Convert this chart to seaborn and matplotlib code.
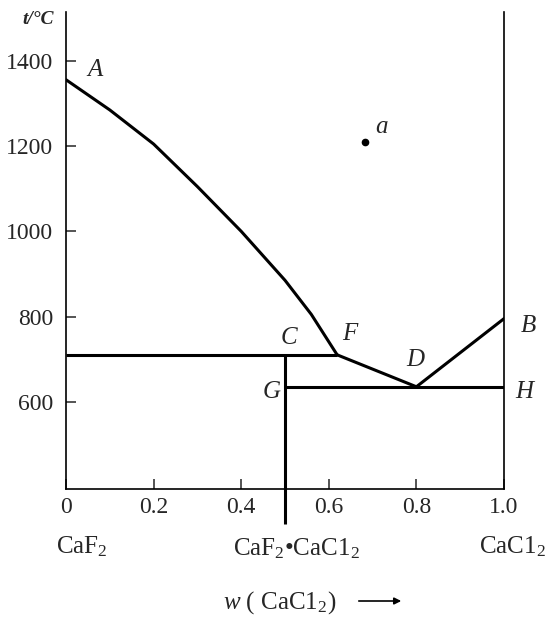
import numpy as np
import matplotlib
matplotlib.use("Agg")
import matplotlib.pyplot as plt
import pandas as pd
import seaborn as sns

# liquidus A -> F (w, t)
liq_w = [0.0, 0.1, 0.2, 0.3, 0.4, 0.5, 0.56, 0.619]
liq_t = [1356, 1285, 1205, 1105, 1000, 885, 805, 710]
# F -> D -> B
fdb_w = [0.619, 0.80, 1.0]
fdb_t = [710, 635, 795]
# horizontal lines: C line and G-H line
peritectic_t = 710
eutectic_t = 635
compound_w = 0.5
point_a = (0.683, 1210)

xticks = [0, 0.2, 0.4, 0.6, 0.8, 1.0]
xticklabels = ["0", "0.2", "0.4", "0.6", "0.8", "1.0"]
yticks = [600, 800, 1000, 1200, 1400]

sns.set_style("ticks")
plt.rcParams["font.family"] = ["Liberation Serif", "DejaVu Serif"]
plt.rcParams["mathtext.fontset"] = "custom"
plt.rcParams["mathtext.rm"] = "Liberation Serif"
plt.rcParams["mathtext.it"] = "Liberation Serif:italic"

fig = plt.figure(figsize=(5.47, 6.17), dpi=100)
ax = fig.add_axes([0.1207, 0.2075, 0.8007, 0.773])

lw = 2.2
liq = pd.DataFrame({"w": liq_w, "t": liq_t})
sns.lineplot(data=liq, x="w", y="t", sort=False, color="black", lw=lw, ax=ax)
sns.lineplot(x=fdb_w, y=fdb_t, sort=False, color="black", lw=lw, ax=ax)

ax.hlines(peritectic_t, 0, liq_w[-1], color="black", lw=lw)
ax.hlines(eutectic_t, compound_w, 1.0, color="black", lw=lw)
ax.vlines(compound_w, 313, peritectic_t, color="black", lw=lw, clip_on=False)
ax.plot(*point_a, "o", color="black", ms=4.5)

ax.set_xlim(0, 1.0)
ax.set_ylim(395, 1515)
ax.set_xticks(xticks)
ax.set_xticklabels(xticklabels)
ax.set_yticks(yticks)
ax.tick_params(direction="in", length=7, width=1.1, labelsize=17, pad=6)
ax.tick_params(axis="y", pad=9)
for side in ["left", "right", "bottom"]:
    ax.spines[side].set_linewidth(1.2)
    ax.spines[side].set_color("black")
ax.spines["top"].set_visible(False)
ax.set_xlabel("")
ax.set_ylabel("")

lab = dict(fontsize=18, style="italic", ha="center", va="center")
ax.text(0.066, 1378, "A", **lab)
ax.text(1.055, 778, "B", clip_on=False, **lab)
ax.text(0.51, 750, "C", **lab)
ax.text(0.648, 758, "F", **lab)
ax.text(0.797, 698, "D", **lab)
ax.text(0.47, 623, "G", **lab)
ax.text(1.046, 623, "H", clip_on=False, **lab)
ax.text(0.72, 1245, "a", **lab)

fig.text(38 / 547, 1 - 20 / 617, "t/°C", fontsize=14, style="italic",
         weight="bold", ha="center", va="center")

fig.text(82 / 547, 1 - 547 / 617, "CaF$_2$", fontsize=18, ha="center", va="center")
fig.text(296 / 547, 1 - 549 / 617, "CaF$_2$•CaC1$_2$", fontsize=18, ha="center", va="center")
fig.text(512 / 547, 1 - 547 / 617, "CaC1$_2$", fontsize=18, ha="center", va="center")
fig.text(280 / 547, 1 - 603 / 617, "$w$ ( CaC1$_2$)", fontsize=18, ha="center", va="center")
fig.add_artist(matplotlib.patches.FancyArrowPatch(
    (356 / 547, 1 - 601 / 617), (404 / 547, 1 - 601 / 617),
    transform=fig.transFigure, arrowstyle="-|>", mutation_scale=10,
    color="black", lw=1.2))

fig.savefig("out.png", dpi=100)
